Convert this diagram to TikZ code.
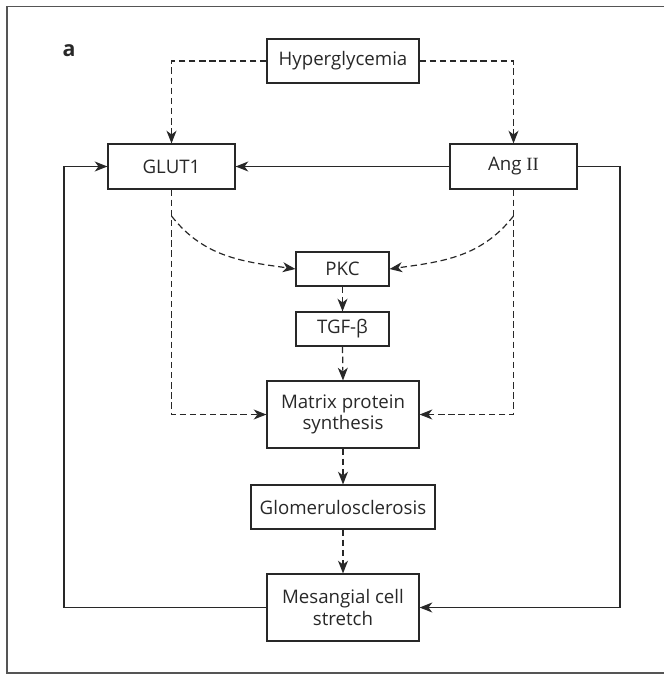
\documentclass[tikz,border=0pt]{standalone}
\usepackage{fontspec}
\setmainfont{Open Sans}
\newfontfamily\romanfont{Liberation Serif}
\usetikzlibrary{arrows.meta,calc,positioning}
\definecolor{linegray}{RGB}{40,40,40}
\definecolor{framegray}{RGB}{85,85,85}

\tikzset{
  box/.style={draw=linegray, line width=0.9pt, text=linegray, align=center,
    inner sep=0pt, font=\fontsize{14}{16.3}\selectfont},
  flow/.style={draw=linegray, line width=0.9pt,
    -{Stealth[length=9.5pt,width=7.5pt,inset=2.8pt]}},
  dflow/.style={flow, dash pattern=on 4.8pt off 2.8pt},
}

\begin{document}
\begin{tikzpicture}[x=0.75pt, y=-0.75pt]
  \useasboundingbox (0,0) rectangle (664,674);

  % Frame (open on the right)
  \draw[framegray, line width=1.2pt] (664,6.5) -- (7,6.5) -- (7,673) -- (664,673);
  \node[text=linegray, font=\bfseries\fontsize{16}{18}\selectfont] (panel) at (69,51) {a};

  % Boxes
  \node[box, minimum width=114pt, minimum height=33pt] (hyp) at (343,61) {Hyperglycemia};
  \node[box, minimum width=95.25pt, minimum height=33.75pt] (glut) at (171.5,166.5) {GLUT1};
  \node[box, minimum width=95.25pt, minimum height=33.75pt] (ang) at (513.5,166.5) {Ang {\romanfont II}};
  \node[box, minimum width=69.75pt, minimum height=25.5pt] (pkc) at (342.5,269) {PKC};
  \node[box, minimum width=69.75pt, minimum height=25.5pt] (tgf) at (342.5,329) {TGF-β};
  \node[box, minimum width=114pt, minimum height=50.25pt] (mat) at (343,414.5) {Matrix protein\\synthesis};
  \node[box, minimum width=138pt, minimum height=33pt] (glom) at (343,507) {Glomerulosclerosis};
  \node[box, minimum width=114pt, minimum height=50.25pt] (mes) at (343,607.5) {Mesangial cell\\stretch};

  % Hyperglycemia to GLUT1 and Ang II
  \draw[dflow] (hyp.west) -| (glut.north);
  \draw[dflow] (hyp.east) -| (ang.north);
  \draw[flow] (ang.west) -- (glut.east);

  % Feedback loops through mesangial stretch
  \coordinate (lft) at (64,166.5);
  \coordinate (rgt) at (620,166.5);
  \draw[flow] (mes.west) -| (lft) -- (glut.west);
  \draw[flow] (ang.east) -- (rgt) |- (mes.east);

  % Direct paths to matrix synthesis
  \draw[dflow] (glut.south) |- (mat.west);
  \draw[dflow] (ang.south) |- (mat.east);

  % Branches to PKC
  \coordinate (gsplit) at (171.5,216);
  \coordinate (asplit) at (513.5,216);
  \draw[dflow] (gsplit) to[out=-52, in=172] (pkc.west);
  \draw[dflow] (asplit) to[out=-128, in=8] (pkc.east);

  % Central chain
  \draw[dflow] (pkc.south) -- (tgf.north);
  \draw[dflow] (tgf.south) -- (mat.north);
  \draw[dflow] (mat.south) -- (glom.north);
  \draw[dflow] (glom.south) -- (mes.north);
\end{tikzpicture}
\end{document}
